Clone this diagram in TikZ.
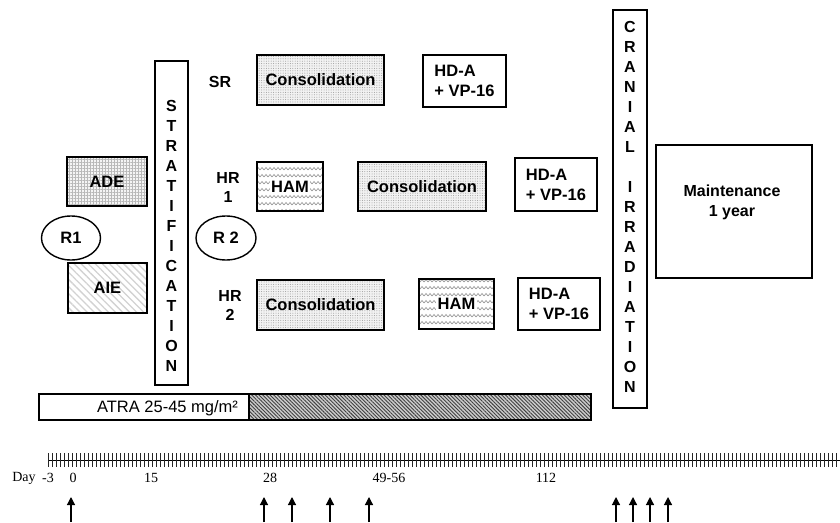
\documentclass[tikz,border=0pt]{standalone}
\usepackage{fontspec}
\setmainfont{Liberation Sans}
\newfontfamily\timesf{Liberation Serif}
\usetikzlibrary{patterns.meta,shapes.geometric,arrows.meta}
\pgfdeclarepattern{
  name=hamzig,
  type=uncolored,
  bottom left={\pgfpoint{-0.1pt}{-0.1pt}},
  top right={\pgfpoint{4.1pt}{7.1pt}},
  tile size={\pgfpoint{4pt}{7pt}},
  code={
    \pgfsetlinewidth{0.7pt}
    \pgfpathmoveto{\pgfpoint{0pt}{2pt}}
    \pgfpathlineto{\pgfpoint{2pt}{4.5pt}}
    \pgfpathlineto{\pgfpoint{4pt}{2pt}}
    \pgfusepath{stroke}
  }
}
\tikzset{
  boxx/.style={draw, line width=1.6pt, inner sep=0pt,
    font=\bfseries\fontsize{16.5}{20}\selectfont},
  consol/.style={boxx, preaction={fill=gray!10},
    pattern={Dots[distance=2.4pt,radius=0.5pt]}, pattern color=gray!80},
  adebox/.style={boxx, preaction={fill=gray!8},
    pattern={Hatch[angle=0,distance=3pt,line width=0.5pt]}, pattern color=gray!55},
  aiebox/.style={boxx, preaction={fill=white},
    pattern={Lines[angle=-45,distance=5pt,line width=1.3pt]}, pattern color=gray!35},
  hambox/.style={boxx, preaction={fill=white}, pattern=hamzig, pattern color=gray!80},
  hamtxt/.style={fill=white, inner sep=1.5pt, font=\bfseries\fontsize{16.5}{20}\selectfont},
  plainbox/.style={boxx, fill=white},
  tallbox/.style={draw, line width=1.6pt, inner sep=0pt},
  tallletters/.style={align=center, inner sep=0pt,
    font=\bfseries\fontsize{16}{20}\selectfont},
  rnode/.style={draw, ellipse, line width=1.4pt, inner sep=0pt,
    minimum width=59pt, minimum height=44pt,
    font=\bfseries\fontsize{16.5}{20}\selectfont},
  lbl/.style={align=center, inner sep=0pt,
    font=\bfseries\fontsize{16}{19}\selectfont},
  daylbl/.style={inner sep=0pt, font=\timesf\fontsize{14}{16}\selectfont},
  arr/.style={line width=1.2pt, -{Triangle[width=8pt,length=8pt]}},
  tick/.style={line width=0.9pt, black!85}
}
\begin{document}
\begin{tikzpicture}[x=1pt,y=-1pt]
\useasboundingbox (0,0) rectangle (840,522);

% tall boxes
\node[tallbox, minimum width=33pt, minimum height=324pt] (strat) at (171.5,223) {};
\node[tallletters] (strattxt) at (171.5,236) {S\\T\\R\\A\\T\\I\\F\\I\\C\\A\\T\\I\\O\\N};
\node[tallbox, minimum width=34pt, minimum height=398pt] (cran) at (630,209) {};
\node[tallletters] (crantxt) at (630,207) {C\\R\\A\\N\\I\\A\\L\\[20pt]I\\R\\R\\A\\D\\I\\A\\T\\I\\O\\N};

% induction
\node[adebox, minimum width=80pt, minimum height=49pt] (ade) at (107,181.5) {ADE};
\node[aiebox, minimum width=79pt, minimum height=50pt] (aie) at (107.5,288) {AIE};
\node[rnode] (r1) at (71,238) {R1};
\node[rnode, minimum width=60pt] (r2) at (226,238) {R 2};

% group labels
\node[lbl] (sr) at (220,82) {SR};
\node[lbl] (hr1) at (228,187) {HR\\1};
\node[lbl] (hr2) at (230,305) {HR\\2};

% SR row
\node[consol, minimum width=127pt, minimum height=50pt] (c1) at (320.5,80) {Consolidation};
\node[plainbox, minimum width=83pt, minimum height=52pt, align=left] (h1) at (464.5,81) {HD-A\\+ VP-16};

% HR1 row
\node[hambox, minimum width=66pt, minimum height=49pt] (ham1) at (290,186.5) {};
\node[hamtxt] (ham1t) at (290,186.5) {HAM};
\node[consol, minimum width=128pt, minimum height=49pt] (c2) at (422,186.5) {Consolidation};
\node[plainbox, minimum width=82pt, minimum height=53pt, align=left] (h2) at (556,184.5) {HD-A\\+ VP-16};

% HR2 row
\node[consol, minimum width=127pt, minimum height=50pt] (c3) at (320.5,305) {Consolidation};
\node[hambox, minimum width=75pt, minimum height=50pt] (ham2) at (456.5,304) {};
\node[hamtxt] (ham2t) at (456.5,304) {HAM};
\node[plainbox, minimum width=82pt, minimum height=52pt, align=left] (h3) at (559,304) {HD-A\\+ VP-16};

% maintenance
\node[boxx, minimum width=156pt, minimum height=133pt] (maint) at (734,211.5) {};
\node[lbl, font=\bfseries\fontsize{16}{20}\selectfont] (mainttxt) at (732,202) {Maintenance\\1 year};

% ATRA bar
\node[draw, line width=1.3pt, minimum width=210pt, minimum height=26pt, inner sep=0pt] (atraw) at (144,407) {};
\node[draw, line width=1.3pt, minimum width=342pt, minimum height=26pt, inner sep=0pt,
  preaction={fill=gray!40}, pattern={Lines[angle=-45,distance=2.6pt,line width=0.9pt]},
  pattern color=black!75] (atrah) at (420,407) {};
\node[inner sep=0pt, font=\fontsize{16.5}{19}\selectfont] (atratxt) at (167.5,408) {ATRA 25-45 mg/m²};

% timeline
\coordinate (tlA) at (48,460);
\coordinate (tlB) at (840,460);
\draw[line width=1pt] (tlA) -- (tlB);
\foreach \k in {0,...,197}{
  \draw[tick] ({48+4*\k},453) -- ({48+4*\k},467);
}
\node[daylbl] (dday) at (24,478) {Day};
\node[daylbl] (dm3) at (48,478) {-3};
\node[daylbl] (d0) at (73,478) {0};
\node[daylbl] (d15) at (151,478) {15};
\node[daylbl] (d28) at (270,478) {28};
\node[daylbl] (d49) at (389,478) {49-56};
\node[daylbl] (d112) at (546,478) {112};

% arrows
\foreach \ax [count=\i] in {71,264,292,330,369,616,633,650,668}{
  \coordinate (ab\i) at (\ax,522);
  \coordinate (at\i) at (\ax,497);
  \draw[arr] (ab\i) -- (at\i);
}
\end{tikzpicture}
\end{document}
